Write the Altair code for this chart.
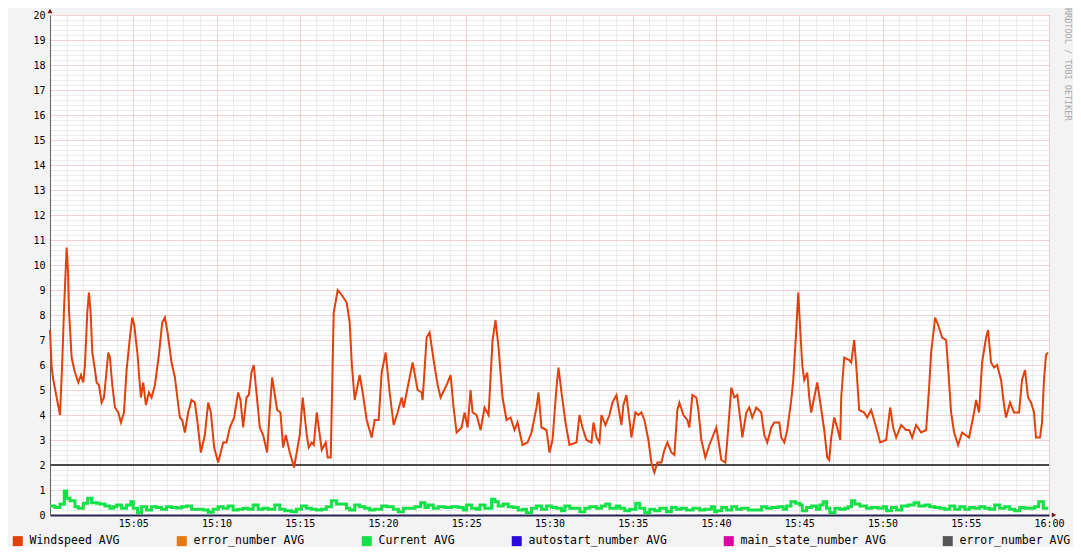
import json
import altair as alt
import pandas as pd

# ---- data (minutes after 15:00) ----
wind_t = [0.0, 0.1, 0.2, 0.4, 0.6, 0.74, 0.84, 1.0, 1.08, 1.14, 1.3, 1.46, 1.6, 1.7, 1.86, 2.0, 2.1, 2.24, 2.34, 2.44,
          2.54, 2.7, 2.8, 2.94, 3.1, 3.24, 3.36, 3.5, 3.6, 3.74, 3.9, 4.1, 4.26, 4.44, 4.6, 4.8, 4.94, 5.06, 5.26, 5.36,
          5.46, 5.6, 5.76, 5.94, 6.1, 6.3, 6.54, 6.74, 6.9, 7.06, 7.3, 7.5, 7.8, 7.94, 8.1, 8.3, 8.5, 8.7, 8.86, 9.06,
          9.3, 9.5, 9.66, 9.86, 10.1, 10.4, 10.6, 10.8, 11.06, 11.3, 11.44, 11.6, 11.8, 11.94, 12.1, 12.24, 12.4, 12.6,
          12.8, 13.04, 13.2, 13.34, 13.46, 13.64, 13.84, 14.0, 14.16, 14.4, 14.66, 15.0, 15.18, 15.42, 15.54, 15.72,
          15.84, 16.02, 16.14, 16.32, 16.56, 16.68, 16.86, 16.92, 17.04, 17.28, 17.52, 17.82, 18.0, 18.12, 18.3, 18.6,
          18.78, 19.02, 19.32, 19.5, 19.74, 19.92, 20.16, 20.4, 20.64, 20.88, 21.12, 21.24, 21.6, 21.78, 22.08, 22.32,
          22.38, 22.62, 22.8, 23.04, 23.28, 23.46, 23.82, 24.06, 24.24, 24.42, 24.72, 24.9, 25.08, 25.26, 25.38, 25.62,
          25.86, 26.1, 26.34, 26.58, 26.76, 26.94, 27.18, 27.42, 27.66, 27.9, 28.08, 28.38, 28.68, 28.92, 29.22, 29.34,
          29.52, 29.82, 30.0, 30.18, 30.42, 30.54, 30.72, 30.96, 31.2, 31.62, 31.8, 31.98, 32.22, 32.52, 32.64, 32.82,
          33.0, 33.12, 33.36, 33.6, 33.78, 34.02, 34.14, 34.32, 34.44, 34.62, 34.8, 34.92, 35.16, 35.34, 35.52, 35.7,
          35.94, 36.12, 36.3, 36.48, 36.72, 36.9, 37.08, 37.32, 37.5, 37.68, 37.8, 38.04, 38.28, 38.4, 38.58, 38.82,
          38.94, 39.12, 39.36, 39.6, 39.78, 40.02, 40.14, 40.32, 40.56, 40.68, 40.92, 41.1, 41.28, 41.52, 41.58, 41.82,
          42.0, 42.18, 42.42, 42.72, 42.9, 43.08, 43.32, 43.5, 43.8, 43.92, 44.1, 44.28, 44.52, 44.64, 44.82, 44.94,
          45.06, 45.18, 45.3, 45.48, 45.6, 45.72, 45.84, 46.08, 46.26, 46.5, 46.68, 46.8, 46.92, 47.1, 47.28, 47.46,
          47.52, 47.7, 48.0, 48.12, 48.3, 48.42, 48.6, 48.9, 49.08, 49.32, 49.62, 49.86, 50.22, 50.46, 50.64, 50.82,
          51.12, 51.42, 51.6, 51.78, 52.02, 52.32, 52.62, 52.8, 52.92, 53.16, 53.34, 53.58, 53.82, 53.94, 54.12, 54.3,
          54.54, 54.78, 55.2, 55.5, 55.62, 55.8, 55.98, 56.22, 56.34, 56.52, 56.7, 56.88, 57.12, 57.3, 57.42, 57.66,
          57.9, 58.2, 58.38, 58.56, 58.74, 58.92, 59.1, 59.22, 59.46, 59.58, 59.7, 59.82, 59.94]
wind_v = [7.4, 5.9, 5.4, 4.7, 4.0, 6.2, 8.2, 10.7, 9.8, 8.2, 6.3, 5.8, 5.5, 5.3, 5.6, 5.3, 6.0, 8.1, 8.9, 8.1,
          6.5, 5.8, 5.3, 5.2, 4.5, 4.7, 5.5, 6.5, 6.3, 5.2, 4.3, 4.1, 3.7, 4.1, 5.8, 7.1, 7.9, 7.6, 6.4, 5.5,
          4.7, 5.3, 4.4, 4.9, 4.7, 5.2, 6.4, 7.7, 7.9, 7.3, 6.1, 5.5, 3.9, 3.8, 3.3, 4.1, 4.6, 4.5, 3.7, 2.5,
          3.2, 4.5, 4.1, 2.7, 2.1, 2.9, 2.9, 3.5, 3.9, 4.9, 4.6, 3.5, 4.7, 4.8, 5.7, 6.0, 4.9, 3.5,
          3.2, 2.5, 4.2, 5.5, 5.0, 4.2, 4.1, 2.7, 3.2, 2.5, 1.9, 3.2, 4.7, 3.2, 2.7, 2.9,
          2.8, 4.1, 3.5, 2.6, 2.9, 2.3, 2.3, 4.3, 8.1, 9.0, 8.8, 8.5, 7.7, 6.1, 4.6, 5.6,
          4.9, 3.8, 3.1, 3.8, 3.8, 5.7, 6.5, 4.9, 3.6, 4.1, 4.7, 4.3, 5.5, 6.1, 5.0, 4.9,
          4.6, 7.1, 7.3, 6.2, 5.2, 4.7, 5.2, 5.6, 4.3, 3.3, 3.5, 4.1, 3.5, 5.0, 4.1, 4.0,
          3.4, 4.3, 4.0, 7.0, 7.8, 6.7, 4.7, 3.8, 3.9, 3.4, 3.7, 2.8, 2.9, 3.3, 4.3, 4.9,
          3.5, 3.4, 2.5, 3.0, 5.1, 5.9, 4.9, 3.7, 2.8, 2.9, 4.0, 3.5, 3.0, 2.9, 3.7, 3.1,
          2.9, 4.0, 3.6, 4.0, 4.5, 4.8, 4.3, 3.6, 4.4, 4.8, 3.8, 3.1, 4.1, 4.0, 4.1, 3.8,
          3.0, 2.1, 1.7, 2.1, 2.1, 2.6, 2.9, 2.5, 2.4, 4.2, 4.5, 4.0, 3.8, 3.5, 4.8, 4.7,
          4.2, 3.0, 2.3, 2.8, 3.1, 3.5, 3.0, 2.2, 2.1, 3.0, 5.1, 4.7, 4.8, 3.5, 3.1, 4.1,
          4.3, 3.9, 4.3, 4.1, 3.2, 2.9, 3.5, 3.7, 3.7, 3.1, 2.9, 3.4, 4.6, 5.4, 7.4, 8.9,
          7.4, 6.0, 5.4, 5.7, 4.7, 4.1, 4.5, 5.3, 4.5, 3.4, 2.3, 2.2, 3.1, 3.9, 3.5, 3.0,
          4.7, 6.3, 6.2, 6.1, 7.0, 6.0, 4.2, 4.1, 3.9, 4.2, 3.5, 2.9, 3.0, 4.3, 3.5, 3.1,
          3.6, 3.4, 3.4, 3.1, 3.6, 3.3, 3.4, 5.1, 6.5, 7.9, 7.6, 7.1, 7.0, 5.9, 4.1, 3.3,
          2.8, 3.3, 3.1, 4.1, 4.6, 4.1, 6.1, 7.1, 7.4, 6.1, 5.9, 6.0, 5.4, 4.4, 3.9, 4.5,
          4.1, 4.1, 5.4, 5.8, 4.7, 4.5, 4.1, 3.1, 3.1, 3.7, 5.4, 6.4, 6.5]

cur_t = [0.0, 0.3, 0.6, 0.86, 1.0, 1.2, 1.5, 1.7, 2.0, 2.26, 2.5, 2.8, 3.0, 3.3, 3.6, 3.8, 4.0, 4.3, 4.6, 4.86,
         5.0, 5.26, 5.5, 5.8, 6.1, 6.4, 6.7, 7.0, 7.3, 7.6, 7.9, 8.2, 8.5, 8.8, 9.2, 9.5, 9.8, 10.1, 10.4, 10.7,
         11.0, 11.3, 11.6, 11.9, 12.2, 12.5, 12.8, 13.1, 13.5, 13.8, 14.1, 14.5, 14.8, 15.1, 15.4, 15.7, 16.0, 16.3,
         16.6, 16.9, 17.2, 17.5, 17.8, 18.0, 18.3, 18.6, 18.9, 19.2, 19.5, 19.92, 20.22, 20.62, 20.92, 21.22, 21.62,
         21.92, 22.26, 22.52, 22.72, 23.02, 23.32, 23.72, 24.12, 24.52, 24.82, 25.02, 25.32, 25.62, 25.82, 26.12,
         26.32, 26.52, 26.72, 26.92, 27.22, 27.52, 27.82, 28.12, 28.42, 28.62, 28.92, 29.22, 29.52, 29.82, 30.12,
         30.42, 30.72, 30.92, 31.22, 31.52, 31.82, 32.12, 32.42, 32.82, 33.12, 33.38, 33.62, 34.02, 34.22, 34.52,
         34.82, 35.18, 35.42, 35.72, 36.02, 36.32, 36.62, 37.02, 37.32, 37.62, 37.92, 38.22, 38.62, 39.02, 39.32,
         39.72, 39.92, 40.04, 40.34, 40.64, 40.94, 41.24, 41.54, 41.94, 42.34, 42.74, 43.04, 43.34, 43.74, 44.04,
         44.24, 44.5, 44.78, 45.04, 45.18, 45.44, 45.74, 46.04, 46.24, 46.44, 46.64, 46.84, 47.14, 47.44, 47.74,
         47.94, 48.14, 48.34, 48.64, 49.04, 49.34, 49.74, 50.04, 50.24, 50.54, 50.84, 51.14, 51.54, 51.9, 52.18,
         52.54, 52.84, 53.14, 53.44, 53.74, 54.04, 54.34, 54.64, 54.94, 55.24, 55.54, 55.84, 56.14, 56.44, 56.74,
         57.04, 57.34, 57.64, 57.94, 58.24, 58.54, 58.84, 59.14, 59.38, 59.66, 59.96]
cur_v = [0.36, 0.30, 0.44, 0.96, 0.67, 0.57, 0.33, 0.27, 0.47, 0.67, 0.49, 0.47, 0.44, 0.36, 0.27, 0.33, 0.40, 0.27,
         0.40, 0.53, 0.27, 0.09, 0.33, 0.20, 0.33, 0.30, 0.23, 0.33, 0.30, 0.28, 0.33, 0.36, 0.23, 0.23, 0.20, 0.11,
         0.23, 0.33, 0.27, 0.36, 0.20, 0.23, 0.27, 0.23, 0.40, 0.23, 0.27, 0.23, 0.40, 0.23, 0.17, 0.13, 0.23, 0.36,
         0.27, 0.23, 0.20, 0.23, 0.33, 0.57, 0.44, 0.44, 0.27, 0.20, 0.40, 0.33, 0.27, 0.20, 0.23, 0.36, 0.33, 0.23,
         0.13, 0.27, 0.27, 0.33, 0.49, 0.30, 0.40, 0.27, 0.33, 0.30, 0.33, 0.30, 0.20, 0.40, 0.27, 0.23, 0.40, 0.27,
         0.27, 0.63, 0.53, 0.36, 0.44, 0.33, 0.30, 0.20, 0.23, 0.09, 0.27, 0.36, 0.23, 0.36, 0.30, 0.27, 0.17, 0.36,
         0.27, 0.27, 0.13, 0.27, 0.33, 0.27, 0.36, 0.44, 0.27, 0.36, 0.27, 0.17, 0.23, 0.47, 0.27, 0.09, 0.23, 0.17,
         0.27, 0.13, 0.30, 0.23, 0.27, 0.20, 0.27, 0.20, 0.23, 0.33, 0.13, 0.17, 0.30, 0.20, 0.33, 0.23, 0.27, 0.20,
         0.20, 0.33, 0.27, 0.30, 0.33, 0.23, 0.36, 0.53, 0.47, 0.40, 0.17, 0.30, 0.36, 0.23, 0.40, 0.53, 0.27, 0.09,
         0.27, 0.23, 0.27, 0.33, 0.57, 0.44, 0.36, 0.27, 0.30, 0.27, 0.33, 0.17, 0.30, 0.20, 0.36, 0.40, 0.49, 0.36,
         0.40, 0.33, 0.30, 0.27, 0.23, 0.36, 0.23, 0.33, 0.23, 0.30, 0.27, 0.33, 0.27, 0.23, 0.40, 0.27, 0.33, 0.23,
         0.17, 0.30, 0.27, 0.27, 0.33, 0.53, 0.27, 0.27]

threshold = 2  # HRULE

series_names = ["Windspeed AVG", "error_number AVG", "Current AVG",
                "autostart_number AVG", "main_state_number AVG", "error_number AVG "]
series_colors = ["#E2400C", "#E27A10", "#14E048", "#2A0CE0", "#E000A0", "#555555"]

x_tick_labels = ["15:05", "15:10", "15:15", "15:20", "15:25", "15:30",
                 "15:35", "15:40", "15:45", "15:50", "15:55", "16:00"]
x_grid_values = list(range(0, 61))
y_grid_values = [round(i * 0.2, 1) for i in range(0, 101)]
watermark = "RRDTOOL / TOBI OETIKER"

# ---- styles ----
MONO = "DejaVu Sans Mono"
MAJOR = "#EBA5A5"
MINOR = "#D9D9D9"

wind_df = pd.DataFrame({"t": wind_t, "v": wind_v, "series": series_names[0]})
cur_df = pd.DataFrame({"t": cur_t, "v": cur_v, "series": series_names[2]})

x_label_expr = ("datum.value > 0 && datum.value % 5 === 0 ? "
                + json.dumps(x_tick_labels) + "[datum.value / 5 - 1] : ''")

x_scale = alt.Scale(domain=[0, 60], nice=False, zero=False)
y_scale = alt.Scale(domain=[0, 20], nice=False)

x_enc = alt.X("t:Q", scale=x_scale, axis=alt.Axis(
    values=x_grid_values, tickCount=500, grid=True,
    gridColor={"condition": {"test": "datum.value % 5 === 0", "value": MAJOR}, "value": MINOR},
    gridDash=[1, 1], gridWidth=1, ticks=False, labelExpr=x_label_expr,
    labelOverlap=False, labelFlush=False, labelFont=MONO, labelFontSize=10,
    labelColor="black", labelPadding=3, title=None,
    domainColor="#2B2155", domainWidth=2))
y_enc = alt.Y("v:Q", scale=y_scale, axis=alt.Axis(
    values=y_grid_values, tickCount=500, grid=True,
    gridColor={"condition": {"test": "datum.value % 1 === 0", "value": MAJOR}, "value": MINOR},
    gridDash=[1, 1], gridWidth=1, ticks=False,
    labelExpr="datum.value % 1 === 0 ? format(datum.value, 'd') : ''",
    labelOverlap=False, labelFlush=False, labelFont=MONO, labelFontSize=10,
    labelColor="black", labelPadding=5, title=None,
    domainColor="#606060", domainWidth=1))

series_scale = alt.Scale(domain=series_names, range=series_colors)
series_legend = alt.Legend(
    orient="none", legendX=-38, legendY=520, direction="horizontal",
    title=None, symbolType="square", symbolSize=25, symbolStrokeWidth=5,
    symbolFillColor="black", symbolOpacity=1,
    labelFont=MONO, labelFontSize=11.5, labelColor="black",
    labelOffset=6, columnPadding=49, labelLimit=400)
stroke_enc = alt.Stroke("series:N", scale=series_scale, legend=series_legend)

hrule = alt.Chart(pd.DataFrame({"y": [threshold]})).mark_rule(color="#4A4A4A", strokeWidth=2).encode(
    y=alt.Y("y:Q", scale=y_scale))

wind = alt.Chart(wind_df).mark_line(strokeWidth=2, interpolate="linear").encode(
    x=x_enc, y=y_enc, stroke=stroke_enc)
cur = alt.Chart(cur_df).mark_line(strokeWidth=3, interpolate="step-after").encode(
    x=alt.X("t:Q", scale=x_scale), y=alt.Y("v:Q", scale=y_scale), stroke=stroke_enc)

arrow_y = alt.Chart(pd.DataFrame({"a": [0]})).mark_point(
    shape="triangle-up", filled=True, size=26, color="#7A1010", opacity=1, yOffset=-4).encode(
    x=alt.datum(0, scale=x_scale), y=alt.datum(20, scale=y_scale))
arrow_x = alt.Chart(pd.DataFrame({"a": [0]})).mark_point(
    shape="triangle-right", filled=True, size=26, color="#7A1010", opacity=1, xOffset=5).encode(
    x=alt.datum(60, scale=x_scale), y=alt.datum(0, scale=y_scale))

wm = alt.Chart(pd.DataFrame({"w": [watermark]})).mark_text(
    angle=90, align="left", baseline="middle", font=MONO, fontSize=8.5, color="#A8A8A8").encode(
    x=alt.value(1018), y=alt.value(-7), text="w:N")

chart = alt.layer(hrule, wind, cur, arrow_y, arrow_x, wm).properties(
    width=999, height=500,
    autosize=alt.AutoSizeParams(type="none"),
    padding={"left": 42, "top": 7, "right": 24, "bottom": 32},
    background="#F3F3F3",
).configure_view(stroke=None, fill="white")

chart.save("out.html", embed_options={"renderer": "svg", "actions": False})
